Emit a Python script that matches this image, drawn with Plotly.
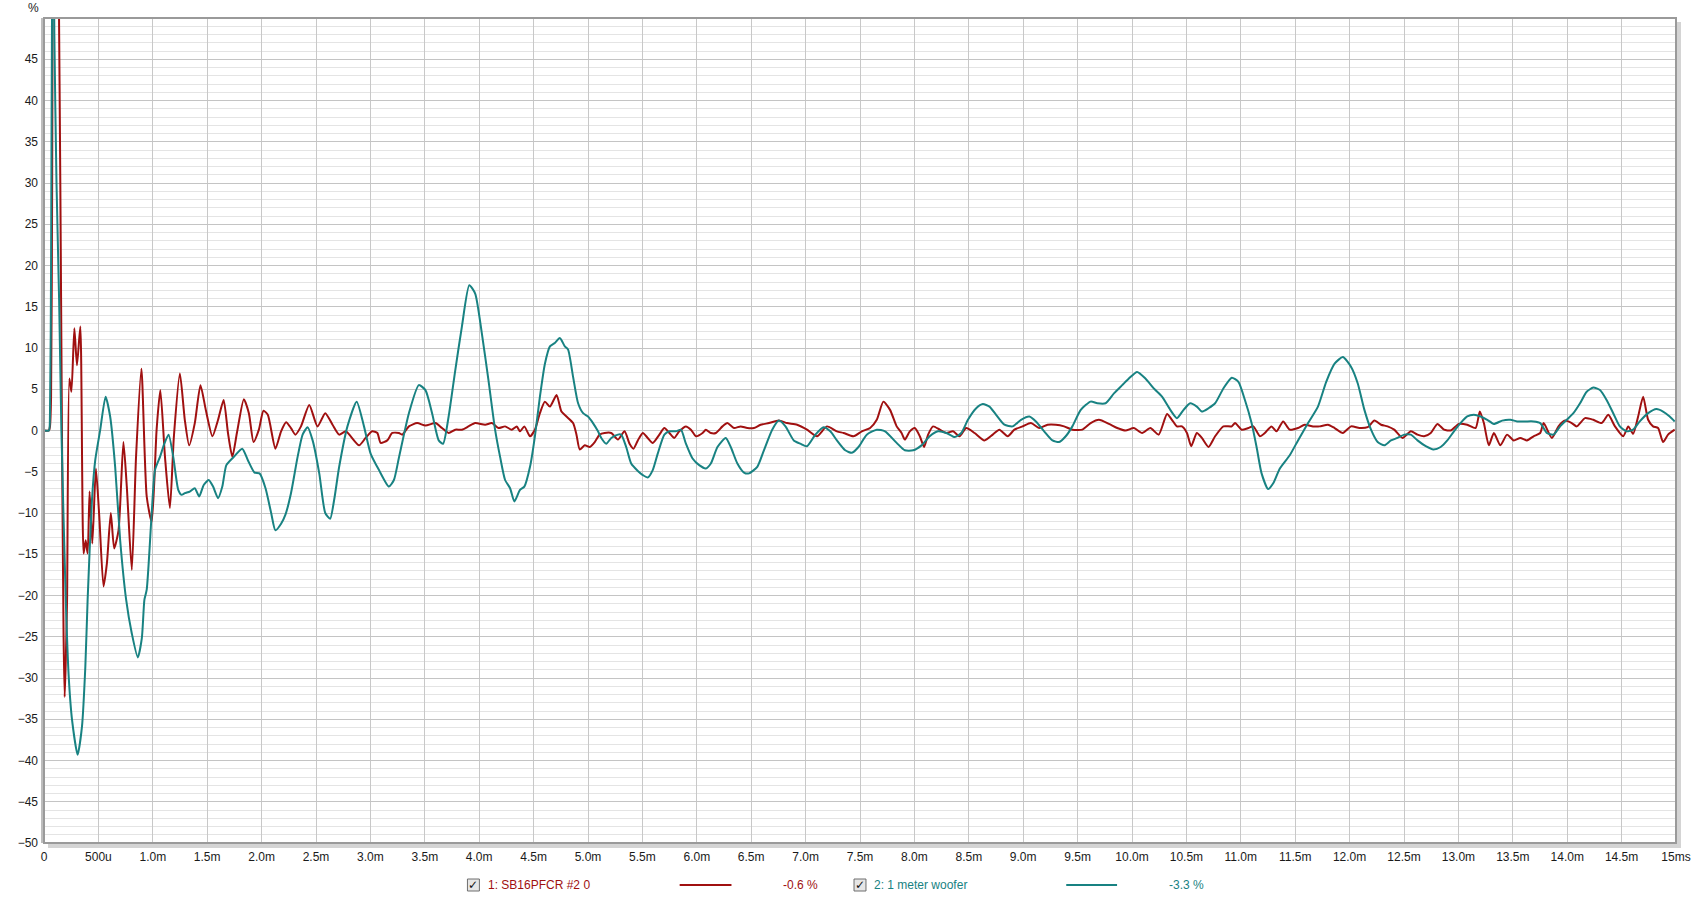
import plotly.graph_objects as go

# ---------------- data (time in ms, value in %) ----------------
red_t = [0, 0.045, 0.055, 0.065, 0.075, 0.09, 0.115, 0.135, 0.15, 0.165, 0.18, 0.19, 0.2, 0.212,
         0.233, 0.252, 0.279, 0.303, 0.334, 0.364, 0.383, 0.401, 0.419, 0.444, 0.477, 0.508, 0.547,
         0.578, 0.614, 0.645, 0.685, 0.730, 0.761, 0.807, 0.846, 0.895, 0.944, 0.990, 1.035, 1.069,
         1.112, 1.157, 1.194, 1.249, 1.294, 1.334, 1.386, 1.438, 1.487, 1.548, 1.600, 1.651, 1.691,
         1.731, 1.773, 1.837, 1.883, 1.926, 1.975, 2.017, 2.057, 2.127, 2.179, 2.225, 2.270, 2.310,
         2.362, 2.438, 2.514, 2.585, 2.652, 2.713, 2.774, 2.896, 2.956, 3.017, 3.064, 3.094, 3.155,
         3.201, 3.262, 3.293, 3.354, 3.430, 3.506, 3.598, 3.658, 3.719, 3.780, 3.841, 3.902, 3.963,
         4.055, 4.116, 4.177, 4.238, 4.299, 4.345, 4.375, 4.415, 4.467, 4.512, 4.558, 4.604, 4.650,
         4.711, 4.756, 4.802, 4.863, 4.894, 4.924, 4.970, 5.016, 5.062, 5.107, 5.153, 5.214, 5.275,
         5.336, 5.382, 5.418, 5.458, 5.504, 5.549, 5.595, 5.656, 5.702, 5.748, 5.793, 5.839, 5.900,
         5.946, 5.992, 6.053, 6.083, 6.129, 6.175, 6.236, 6.281, 6.342, 6.403, 6.464, 6.525, 6.586,
         6.663, 6.754, 6.830, 6.922, 7.013, 7.105, 7.196, 7.288, 7.349, 7.440, 7.517, 7.593, 7.654,
         7.715, 7.776, 7.837, 7.882, 7.912, 7.958, 8.004, 8.050, 8.089, 8.126, 8.172, 8.233, 8.294,
         8.355, 8.415, 8.476, 8.553, 8.644, 8.720, 8.781, 8.858, 8.919, 8.995, 9.071, 9.147, 9.224,
         9.300, 9.376, 9.452, 9.544, 9.620, 9.696, 9.788, 9.864, 9.940, 10.017, 10.093, 10.169,
         10.245, 10.322, 10.367, 10.413, 10.459, 10.505, 10.544, 10.596, 10.642, 10.703, 10.764,
         10.840, 10.917, 10.947, 11.008, 11.069, 11.115, 11.176, 11.221, 11.282, 11.328, 11.389,
         11.450, 11.526, 11.587, 11.664, 11.725, 11.801, 11.862, 11.938, 12.014, 12.090, 12.166,
         12.228, 12.289, 12.349, 12.410, 12.487, 12.563, 12.624, 12.685, 12.746, 12.807, 12.868,
         12.929, 13.005, 13.081, 13.158, 13.197, 13.234, 13.280, 13.326, 13.386, 13.447, 13.508,
         13.569, 13.630, 13.691, 13.752, 13.783, 13.859, 13.920, 13.981, 14.042, 14.088, 14.164,
         14.240, 14.317, 14.378, 14.439, 14.515, 14.561, 14.606, 14.652, 14.698, 14.744, 14.789,
         14.835, 14.881, 14.927, 14.988]
red_v = [0, 0, 0.5, 4, 30, 75, 80, 55, 30, 0, -25, -32.3, -28, -20.5,
         6.3, 4.7, 12.4, 7.9, 12.6, -14.9, -13.3, -14.9, -7.4, -13.7, -4.6, -10.4, -18.9,
         -16.1, -10.0, -14.3, -12.1, -1.4, -6.8, -16.9, -3.2, 7.5, -8.0, -11.1, 0.1, 4.9,
         -3.2, -9.4, -0.7, 6.9, 1.3, -1.8, 0.9, 5.5, 2.5, -0.7, 1.3, 3.7, -0.3,
         -3.2, -0.3, 3.8, 2.1, -1.4, 0.1, 2.4, 1.9, -2.2, -0.1, 1.0, 0.3, -0.5,
         0.5, 3.1, 0.5, 2.1, 0.7, -0.5, -0.1, -1.8, -0.9, -0.1, -0.3, -1.5, -1.2,
         -0.3, -0.3, -0.5, 0.5, 0.9, 0.6, 0.9, 0.3, -0.3, 0.1, 0.1, 0.5, 0.9,
         0.7, 0.9, 0.3, 0.5, 0.1, 0.5, -0.1, 0.5, -0.7, 0.1, 2.1, 3.5, 2.9,
         4.3, 2.3, 1.7, 0.9, -0.5, -2.3, -1.8, -2.0, -1.4, -0.5, -0.3, -0.3, -1.1,
         -0.1, -1.6, -2.2, -1.2, -0.3, -0.9, -1.5, -0.5, 0.3, -0.3, -0.9, -0.1, 0.5,
         0.1, -0.7, -0.3, 0.1, -0.3, -0.3, 0.5, 0.9, 0.3, 0.5, 0.3, 0.3, 0.7,
         0.9, 1.2, 0.9, 0.7, 0.1, -0.7, 0.5, -0.1, -0.3, -0.7, -0.1, 0.3, 1.3,
         3.5, 2.5, 0.5, -0.3, -1.1, -0.1, 0.3, -0.7, -2.0, -0.5, 0.5, 0.1, -0.3,
         -0.1, -0.7, 0.3, -0.3, -1.2, -0.5, 0.1, -0.7, 0.1, 0.5, 0.9, 0.3, 0.7,
         0.7, 0.5, 0.1, 0.1, 0.9, 1.3, 0.8, 0.3, 0.0, 0.3, -0.3, 0.3,
         -0.5, 2.0, 1.3, 0.5, 0.5, -0.3, -1.9, -0.3, -0.9, -2.0, -0.7,
         0.5, 0.5, 0.9, 0.1, 0.3, 0.5, -0.7, -0.3, 0.5, -0.1, 1.1,
         0.1, 0.3, 0.7, 0.5, 0.5, 0.7, 0.3, -0.3, 0.5, 0.3, 0.4,
         1.2, 0.7, 0.5, 0.1, -0.9, -0.1, -0.5, -0.7, -0.3, 0.8, 0.1,
         0.0, 0.8, 0.7, 0.3, 2.3, 0.9, -1.8, -0.3, -1.8, -0.5, -1.2,
         -0.9, -1.2, -0.7, -0.3, 0.9, -0.9, 0.5, 1.2, 0.9, 0.5, 1.5,
         1.3, 0.9, 1.9, 0.5, -0.7, 0.5, -0.4, 1.7, 4.1, 1.3, 0.5,
         0.3, -1.4, -0.5, 0.1]

teal_t = [0, 0.045, 0.055, 0.065, 0.075, 0.085, 0.095, 0.115, 0.139, 0.16, 0.2, 0.227, 0.258, 0.309,
          0.349, 0.380, 0.401, 0.441, 0.471, 0.517, 0.566, 0.608, 0.654, 0.700, 0.755, 0.807, 0.862,
          0.899, 0.923, 0.944, 0.990, 1.020, 1.066, 1.106, 1.145, 1.188, 1.234, 1.264, 1.294, 1.340,
          1.386, 1.426, 1.468, 1.514, 1.554, 1.600, 1.639, 1.676, 1.737, 1.822, 1.874, 1.935, 1.981,
          2.036, 2.088, 2.127, 2.179, 2.219, 2.270, 2.331, 2.377, 2.423, 2.469, 2.530, 2.585, 2.630,
          2.667, 2.713, 2.789, 2.874, 2.941, 3.002, 3.079, 3.170, 3.216, 3.262, 3.354, 3.445, 3.506,
          3.567, 3.628, 3.668, 3.719, 3.780, 3.841, 3.909, 3.963, 4.024, 4.085, 4.146, 4.192, 4.238,
          4.284, 4.323, 4.375, 4.415, 4.467, 4.512, 4.558, 4.604, 4.650, 4.695, 4.741, 4.787, 4.817,
          4.863, 4.909, 4.955, 5.000, 5.046, 5.092, 5.122, 5.168, 5.214, 5.275, 5.305, 5.351, 5.397,
          5.458, 5.504, 5.549, 5.595, 5.641, 5.702, 5.748, 5.809, 5.854, 5.900, 5.961, 6.022, 6.083,
          6.129, 6.190, 6.266, 6.312, 6.373, 6.434, 6.479, 6.556, 6.617, 6.693, 6.754, 6.815, 6.891,
          6.952, 7.013, 7.090, 7.166, 7.227, 7.288, 7.364, 7.425, 7.486, 7.562, 7.654, 7.730, 7.837,
          7.912, 7.989, 8.065, 8.141, 8.217, 8.294, 8.370, 8.431, 8.492, 8.568, 8.629, 8.690, 8.751,
          8.827, 8.903, 8.980, 9.056, 9.117, 9.193, 9.269, 9.330, 9.391, 9.452, 9.529, 9.620, 9.681,
          9.757, 9.834, 9.910, 9.971, 10.047, 10.123, 10.200, 10.276, 10.352, 10.413, 10.474, 10.535,
          10.596, 10.642, 10.703, 10.764, 10.840, 10.917, 10.978, 11.038, 11.099, 11.145, 11.191,
          11.252, 11.298, 11.359, 11.450, 11.526, 11.618, 11.709, 11.785, 11.862, 11.938, 12.014,
          12.075, 12.136, 12.197, 12.258, 12.319, 12.380, 12.441, 12.502, 12.563, 12.624, 12.700,
          12.770, 12.837, 12.898, 12.959, 13.020, 13.081, 13.142, 13.204, 13.265, 13.326, 13.402,
          13.478, 13.539, 13.615, 13.691, 13.752, 13.813, 13.874, 13.935, 13.996, 14.057, 14.118,
          14.179, 14.240, 14.301, 14.362, 14.423, 14.484, 14.545, 14.606, 14.667, 14.744, 14.820,
          14.881, 14.942, 14.988]
teal_v = [0, 0, 2, 20, 55, 65, 48, 30, 15.8, 0, -20.5, -29.8, -35.1, -39.3,
          -35.9, -28.6, -20.5, -8.4, -3.6, 0.1, 4.1, 1.7, -4.4, -13.3, -20.5, -24.6, -27.5,
          -25.2, -20.5, -19.3, -10.0, -4.8, -3.2, -1.6, -0.5, -3.2, -7.2, -7.8, -7.6, -7.4,
          -7.0, -8.0, -6.6, -6.0, -6.8, -8.2, -6.8, -4.2, -3.3, -2.2, -3.6, -5.1, -5.2,
          -7.0, -10.0, -12.1, -11.3, -10.2, -7.6, -3.2, -0.5, 0.4, -1.2, -5.2, -10.0, -10.7,
          -8.4, -4.4, 0.5, 3.5, 0.5, -2.8, -4.8, -6.8, -6.0, -3.3, 2.1, 5.5, 4.9,
          2.1, -1.2, -1.6, 1.7, 7.3, 12.6, 17.6, 16.6, 11.8, 6.1, 0.1, -3.2, -6.0,
          -7.0, -8.6, -7.2, -6.8, -4.4, -0.7, 4.1, 8.1, 10.2, 10.6, 11.2, 10.2, 9.8,
          6.5, 3.3, 2.1, 1.7, 0.9, -0.1, -0.9, -1.6, -0.9, -0.5, -0.5, -2.0, -4.0,
          -4.9, -5.4, -5.7, -4.8, -2.8, -0.5, -0.1, -0.1, 0.1, -1.6, -3.4, -4.2, -4.6,
          -4.0, -2.0, -0.9, -2.0, -4.0, -5.1, -5.2, -4.4, -2.4, 0.1, 1.2, 0.5, -1.2,
          -1.6, -1.9, -0.5, 0.4, -0.1, -1.2, -2.4, -2.7, -2.0, -0.5, 0.1, -0.1, -1.5,
          -2.4, -2.4, -1.8, -0.7, -0.1, -0.3, -0.8, -0.3, 1.3, 2.7, 3.2, 2.9, 1.9,
          0.7, 0.5, 1.3, 1.7, 1.1, -0.1, -1.2, -1.4, -0.7, 0.5, 2.5, 3.5, 3.3,
          3.3, 4.5, 5.5, 6.3, 7.1, 6.3, 5.1, 4.1, 2.5, 1.5, 2.5, 3.3,
          2.9, 2.3, 2.7, 3.3, 5.1, 6.4, 5.9, 3.7, 0.9, -2.0, -5.2,
          -7.1, -6.4, -4.6, -3.0, -1.2, 0.9, 2.9, 5.9, 8.1, 8.9, 7.7,
          5.7, 2.5, 0.1, -1.4, -1.8, -1.2, -0.9, -0.5, -0.5, -1.2, -1.9,
          -2.3, -2.0, -1.2, -0.1, 0.9, 1.7, 1.9, 1.7, 1.3, 0.8, 1.2,
          1.3, 1.1, 1.1, 1.1, 0.9, -0.3, -0.5, 0.5, 1.3, 2.1, 3.3,
          4.7, 5.2, 4.9, 3.7, 2.1, 0.5, -0.1, 0.1, 1.1, 2.1, 2.6,
          2.3, 1.7, 1.1]

x_tickvals = [i * 0.5 for i in range(31)]
x_ticktext = ["0", "500u", "1.0m", "1.5m", "2.0m", "2.5m", "3.0m", "3.5m", "4.0m", "4.5m",
              "5.0m", "5.5m", "6.0m", "6.5m", "7.0m", "7.5m", "8.0m", "8.5m", "9.0m", "9.5m",
              "10.0m", "10.5m", "11.0m", "11.5m", "12.0m", "12.5m", "13.0m", "13.5m", "14.0m",
              "14.5m", "15ms"]
y_tickvals = list(range(-50, 50, 5))

series_names = ["1: SB16PFCR #2 0", "2: 1 meter woofer"]
series_readouts = ["-0.6 %", "-3.3 %"]
RED = "#A01010"
TEAL = "#188282"

# ---------------- figure ----------------
W, H = 1703, 899
L, R, T, B = 44, 21, 18, 56
PW, PH = W - L - R, H - T - B

def px(X):
    return (X - L) / PW

def py(Y):
    return (H - B - Y) / PH

fig = go.Figure()
fig.add_trace(go.Scatter(x=red_t, y=red_v, mode="lines", name=series_names[0],
                         line=dict(color=RED, width=2, shape="spline", smoothing=0.6)))
fig.add_trace(go.Scatter(x=teal_t, y=teal_v, mode="lines", name=series_names[1],
                         line=dict(color=TEAL, width=2, shape="spline", smoothing=0.6)))

font = "Liberation Sans, Arial, sans-serif"
fig.update_layout(
    width=W, height=H,
    margin=dict(l=L, r=R, t=T, b=B, pad=0),
    paper_bgcolor="white", plot_bgcolor="white",
    showlegend=False,
    font=dict(family=font, size=12, color="#1a1a1a"),
    xaxis=dict(range=[0, 15], tickvals=x_tickvals, ticktext=x_ticktext,
               showgrid=True, gridcolor="#C8C8C8", gridwidth=1, zeroline=False,
               showline=False, ticks="", ticklabelstandoff=5,
               tickfont=dict(family=font, size=12, color="#1a1a1a")),
    yaxis=dict(range=[-50, 50], tickvals=y_tickvals,
               showgrid=True, gridcolor="#C4C4C4", gridwidth=1, zeroline=False,
               showline=False, ticks="", ticklabelstandoff=5,
               tickfont=dict(family=font, size=12, color="#1a1a1a"),
               minor=dict(dtick=1, showgrid=True, gridcolor="#E4E4E4", gridwidth=1)),
)

shapes = []
# shadow of the frame (right and bottom)
shapes.append(dict(type="line", xref="paper", yref="paper", x0=px(W - R + 3), x1=px(W - R + 3),
                   y0=py(T + 4), y1=py(H - B + 3), line=dict(color="#D4D4D4", width=4)))
shapes.append(dict(type="line", xref="paper", yref="paper", x0=px(L + 4), x1=px(W - R + 5),
                   y0=py(H - B + 3), y1=py(H - B + 3), line=dict(color="#D4D4D4", width=4)))
# frame
shapes.append(dict(type="rect", xref="paper", yref="paper", x0=0, x1=1, y0=0, y1=1,
                   line=dict(color="#9A9A9A", width=2), fillcolor="rgba(0,0,0,0)"))
shapes.append(dict(type="line", xref="paper", yref="paper", x0=px(L - 2), x1=px(L - 2),
                   y0=0, y1=1, line=dict(color="#BDBDBD", width=2)))

annotations = [dict(text="%", x=px(33), y=py(8), xref="paper", yref="paper",
                    showarrow=False, xanchor="center", yanchor="middle",
                    font=dict(family=font, size=12, color="#1a1a1a"))]

ly = 885
legend_items = [
    dict(cb=469, text=488, l0=682, l1=734, ro=784, color=RED),
    dict(cb=857, text=875, l0=1070, l1=1121, ro=1171, color=TEAL),
]
for i, it in enumerate(legend_items):
    shapes.append(dict(type="rect", xref="paper", yref="paper",
                       x0=px(it["cb"]), x1=px(it["cb"] + 12), y0=py(ly + 6), y1=py(ly - 6),
                       line=dict(color="#6E6E6E", width=1), fillcolor="#E6E6E6"))
    annotations.append(dict(text="✓", x=px(it["cb"] + 6), y=py(ly), xref="paper", yref="paper",
                            showarrow=False, xanchor="center", yanchor="middle",
                            font=dict(family="DejaVu Sans", size=12, color="#111111")))
    annotations.append(dict(text=series_names[i], x=px(it["text"]), y=py(ly), xref="paper",
                            yref="paper", showarrow=False, xanchor="left", yanchor="middle",
                            font=dict(family=font, size=12, color=it["color"])))
    shapes.append(dict(type="line", xref="paper", yref="paper", x0=px(it["l0"]), x1=px(it["l1"]),
                       y0=py(ly), y1=py(ly), line=dict(color=it["color"], width=2)))
    annotations.append(dict(text=series_readouts[i], x=px(it["ro"]), y=py(ly), xref="paper",
                            yref="paper", showarrow=False, xanchor="left", yanchor="middle",
                            font=dict(family=font, size=12, color=it["color"])))

fig.update_layout(shapes=shapes, annotations=annotations)
fig.write_html("out.html", config={"displayModeBar": False},
               post_script="document.body.style.margin='0px';document.body.style.overflow='hidden';")
